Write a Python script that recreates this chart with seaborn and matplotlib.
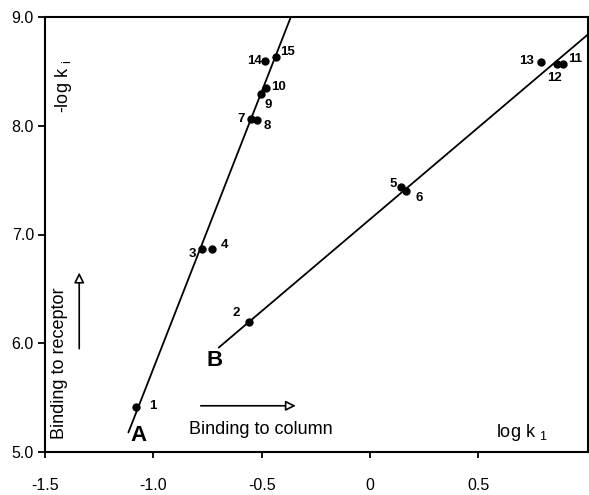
import matplotlib
matplotlib.use("Agg")
import matplotlib.pyplot as plt
import seaborn as sns
import pandas as pd

# ---- data ----
ids_A = ["1", "3", "4", "7", "8", "9", "10", "14", "15"]
x_A = [-1.078, -0.777, -0.731, -0.550, -0.522, -0.504, -0.481, -0.485, -0.434]
y_A = [5.415, 6.87, 6.87, 8.06, 8.05, 8.29, 8.35, 8.60, 8.63]

ids_B = ["2", "5", "6", "13", "12", "11"]
x_B = [-0.559, 0.145, 0.168, 0.789, 0.863, 0.891]
y_B = [6.20, 7.44, 7.40, 8.59, 8.57, 8.57]

lineA_x = [-1.115, -0.365]
lineA_y = [5.18, 9.0]
lineB_x = [-0.698, 1.007]
lineB_y = [5.96, 8.84]

xticks = [-1.5, -1.0, -0.5, 0, 0.5]
xtick_labels = ["-1.5", "-1.0", "-0.5", "0", "0.5"]
yticks = [5.0, 6.0, 7.0, 8.0, 9.0]
ytick_labels = ["5.0", "6.0", "7.0", "8.0", "9.0"]

# label offsets (pixels) and alignment for point numbers
label_style = {
    "1": (13, 1, "left", "center"),
    "3": (-5, -5, "right", "center"),
    "4": (9, 4, "left", "center"),
    "7": (-6, 0, "right", "center"),
    "8": (7, -6, "left", "center"),
    "9": (4, -11, "left", "center"),
    "10": (5, 1, "left", "center"),
    "14": (-3, 0, "right", "center"),
    "15": (4, 5, "left", "center"),
    "2": (-9, 9, "right", "center"),
    "5": (-4, 3, "right", "center"),
    "6": (9, -7, "left", "center"),
    "13": (-7, 1, "right", "center"),
    "12": (-2, -14, "center", "center"),
    "11": (5, 5, "left", "center"),
}

pts = pd.DataFrame({
    "x": x_A + x_B,
    "y": y_A + y_B,
    "id": ids_A + ids_B,
    "series": ["A"] * len(ids_A) + ["B"] * len(ids_B),
})
lines = pd.DataFrame({
    "x": lineA_x + lineB_x,
    "y": lineA_y + lineB_y,
    "series": ["A", "A", "B", "B"],
})

sns.set_style("ticks")
plt.rcParams["font.family"] = ["Liberation Sans", "DejaVu Sans"]
plt.rcParams["mathtext.default"] = "regular"
for k in ["text.color", "axes.labelcolor", "xtick.color", "ytick.color",
          "axes.edgecolor"]:
    plt.rcParams[k] = "black"

fig = plt.figure(figsize=(5.89, 4.95), dpi=100)
ax = fig.add_axes([45 / 589, 43 / 495, 543 / 589, 435 / 495])

sns.lineplot(data=lines, x="x", y="y", units="series", estimator=None,
             color="black", linewidth=1.3, ax=ax, legend=False, sort=False)
sns.scatterplot(data=pts, x="x", y="y", color="black", s=36,
                edgecolor="black", linewidth=0, ax=ax, legend=False, zorder=3)

for _, r in pts.iterrows():
    dx, dy, ha, va = label_style[r["id"]]
    ax.annotate(r["id"], (r["x"], r["y"]), xytext=(dx, dy),
                textcoords="offset pixels", ha=ha, va=va,
                fontsize=9.5, fontweight="bold")

ax.set_xlim(-1.5, 1.007)
ax.set_ylim(5.0, 9.0)
ax.set_xticks(xticks)
ax.set_xticklabels(xtick_labels)
ax.set_yticks(yticks)
ax.set_yticklabels(ytick_labels)
ax.set_xlabel("")
ax.set_ylabel("")
ax.tick_params(axis="x", direction="out", length=4, width=1.3, pad=15,
               labelsize=11.5)
ax.tick_params(axis="y", direction="out", length=5, width=1.3, pad=3,
               labelsize=11.5)
for s in ax.spines.values():
    s.set_linewidth(1.5)
    s.set_visible(True)

# annotations
ax.text(-1.068, 5.148, "A", fontsize=16, fontweight="bold",
        ha="center", va="center")
ax.text(-0.716, 5.84, "B", fontsize=16, fontweight="bold",
        ha="center", va="center")
ax.text(-0.837, 5.21, "Binding to column", fontsize=13,
        ha="left", va="center")
ax.text(-1.435, 5.82, "Binding to receptor", fontsize=13, rotation=90,
        ha="center", va="center")
ax.text(-1.415, 8.36, "-log k $_{i}$", fontsize=13, rotation=90,
        ha="center", va="center")
ax.text(0.70, 5.18, "log k $_{1}$", fontsize=13, ha="center", va="center")

arrow = dict(arrowstyle="-|>,head_length=0.6,head_width=0.3",
             fc="white", ec="black", lw=1.2, shrinkA=0, shrinkB=0)
ax.annotate("", xy=(-0.342, 5.425), xytext=(-0.781, 5.425), arrowprops=arrow)
ax.annotate("", xy=(-1.342, 6.65), xytext=(-1.342, 5.95), arrowprops=arrow)

fig.savefig("out.png", dpi=100)
